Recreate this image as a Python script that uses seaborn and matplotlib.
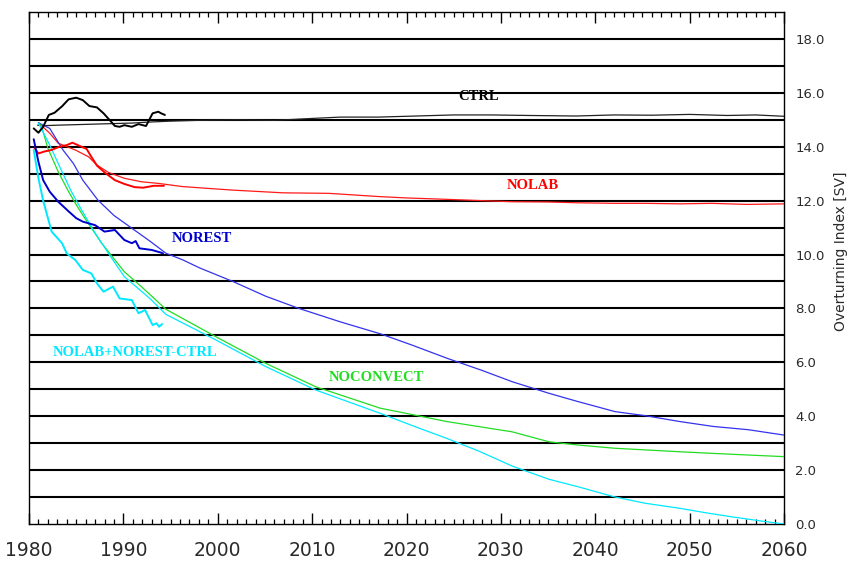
import matplotlib
matplotlib.use("Agg")
import matplotlib.pyplot as plt
from matplotlib.ticker import MultipleLocator, FixedLocator
import seaborn as sns
import numpy as np

# ---------------- data ----------------
ctrl_long_yr = [1980.9, 1981.5, 1983, 1985, 1987, 1989, 1991, 1993, 1995, 1998, 2002, 2006,
                2010, 2013, 2017, 2021, 2025, 2029, 2033, 2038, 2042, 2046, 2050, 2054, 2057, 2060]
ctrl_long_v = [14.8, 14.78, 14.8, 14.82, 14.84, 14.86, 14.88, 14.92, 14.95, 14.98, 15.0, 14.98,
               15.05, 15.1, 15.1, 15.14, 15.18, 15.18, 15.16, 15.14, 15.18, 15.17, 15.2, 15.16, 15.18, 15.13]

ctrl_short_yr = [1980.5, 1981.0, 1981.5, 1982.1, 1982.7, 1983.5, 1984.2, 1985.0, 1985.7, 1986.4,
                 1987.2, 1987.9, 1988.7, 1989.1, 1989.6, 1990.1, 1990.9, 1991.6, 1992.4, 1993.1,
                 1993.7, 1994.0, 1994.4]
ctrl_short_v = [14.68, 14.52, 14.74, 15.18, 15.26, 15.5, 15.76, 15.82, 15.73, 15.51,
                15.46, 15.24, 14.93, 14.77, 14.74, 14.8, 14.74, 14.84, 14.77, 15.24,
                15.3, 15.24, 15.18]

nolab_long_yr = [1981.0, 1982.2, 1983.1, 1984.9, 1986.3, 1987.2, 1988.4, 1990.1, 1991.9, 1993.7,
                 1996.3, 2001.6, 2006.9, 2011.8, 2017.1, 2020, 2024.1, 2028, 2031.2, 2035,
                 2038.2, 2042, 2045.3, 2049, 2052.3, 2056, 2060]
nolab_long_v = [14.89, 14.5, 14.13, 13.88, 13.63, 13.32, 13.05, 12.83, 12.7, 12.64,
                12.52, 12.39, 12.29, 12.27, 12.15, 12.1, 12.05, 12.0, 11.96, 11.95,
                11.92, 11.9, 11.9, 11.88, 11.9, 11.86, 11.88]

nolab_short_yr = [1980.6, 1981.0, 1981.6, 1982.4, 1983.2, 1984.0, 1984.6, 1985.3, 1986.1, 1986.6,
                  1987.2, 1988.0, 1989.1, 1990.1, 1991.2, 1992.1, 1993.2, 1994.3]
nolab_short_v = [13.94, 13.75, 13.82, 13.88, 14.0, 14.06, 14.15, 14.04, 13.92, 13.63,
                 13.3, 13.05, 12.76, 12.62, 12.5, 12.48, 12.55, 12.55]

norest_long_yr = [1981.0, 1982.2, 1983.6, 1984.7, 1985.7, 1987.3, 1989.0, 1991.0, 1992.8, 1994.5,
                  1996.3, 1998.1, 2001.6, 2005.1, 2008.6, 2013, 2017.3, 2020.5, 2024.3, 2028,
                  2031.2, 2035.1, 2038.2, 2042.1, 2045.3, 2049, 2052.5, 2056.2, 2060]
norest_long_v = [14.89, 14.68, 13.88, 13.38, 12.76, 12.02, 11.45, 10.95, 10.5, 10.05,
                 9.8, 9.5, 9.0, 8.45, 8.0, 7.5, 7.05, 6.65, 6.15, 5.7,
                 5.28, 4.85, 4.54, 4.17, 4.02, 3.8, 3.62, 3.5, 3.3]

norest_short_yr = [1980.5, 1981.0, 1981.5, 1982.2, 1983.1, 1984.2, 1985.0, 1985.7, 1987.0, 1988.0,
                   1989.1, 1990.1, 1990.9, 1991.3, 1991.7, 1993.0, 1994.0, 1994.2]
norest_short_v = [14.28, 13.44, 12.76, 12.33, 11.96, 11.6, 11.35, 11.22, 11.09, 10.85,
                  10.91, 10.54, 10.42, 10.5, 10.23, 10.17, 10.07, 10.04]

noconv_long_yr = [1981.0, 1981.3, 1982.0, 1983.1, 1984.2, 1985.0, 1986.0, 1987.7, 1990.1, 1991.9,
                  1994.5, 1999.8, 2005.1, 2010.4, 2017.2, 2024.3, 2031.2, 2035.1, 2038.2, 2042.1,
                  2045.3, 2049, 2052.5, 2056.2, 2060]
noconv_long_v = [14.87, 14.8, 13.94, 13.07, 12.33, 11.85, 11.3, 10.42, 9.36, 8.81,
                 7.97, 6.95, 5.96, 5.09, 4.3, 3.8, 3.42, 3.05, 2.93, 2.81,
                 2.75, 2.68, 2.62, 2.56, 2.5]

both_long_yr = [1981.0, 1982.2, 1983.5, 1984.5, 1985.5, 1987.0, 1988.5, 1990.1, 1992.8, 1994.5,
                1999.8, 2005.1, 2010.4, 2017.2, 2021, 2024.1, 2027.7, 2031.2, 2035.1, 2038.2,
                2042, 2045.3, 2049, 2052, 2054.4, 2058, 2060]
both_long_v = [14.87, 14.06, 13.07, 12.33, 11.7, 10.8, 10.0, 9.18, 8.37, 7.78,
               6.83, 5.84, 4.97, 4.11, 3.6, 3.2, 2.7, 2.15, 1.66, 1.38,
               1.01, 0.77, 0.58, 0.4, 0.27, 0.09, 0.0]

both_short_yr = [1980.5, 1981.0, 1981.5, 1982.4, 1983.5, 1984.0, 1984.9, 1985.7, 1986.6, 1987.2,
                 1987.9, 1988.9, 1989.6, 1990.9, 1991.6, 1992.3, 1993.1, 1993.5, 1993.8, 1994.1]
both_short_v = [13.88, 12.83, 12.0, 10.85, 10.42, 10.04, 9.8, 9.43, 9.3, 8.93,
                8.62, 8.81, 8.37, 8.31, 7.82, 7.94, 7.38, 7.45, 7.32, 7.42]

labels = ["CTRL", "NOLAB", "NOREST", "NOLAB+NOREST-CTRL", "NOCONVECT"]
label_pos_yr = [2027.6, 2033.4, 1998.3, 1991.25, 2016.8]
label_pos_v = [15.88, 12.58, 10.59, 6.38, 5.44]

y_ticks = [0, 2, 4, 6, 8, 10, 12, 14, 16, 18]
x_ticks = [1980, 1990, 2000, 2010, 2020, 2030, 2040, 2050, 2060]

# ---------------- styling ----------------
sns.set_style("white")
plt.rcParams['font.family'] = ['DejaVu Sans']

c_black = "#000000"
c_red = "#ff1a1a"
c_red_thick = "#ff0000"
c_blue = "#3333ee"
c_blue_thick = "#0000cc"
c_green = "#22dd22"
c_cyan = "#00e8ff"
label_colors = [c_black, c_red_thick, c_blue_thick, c_cyan, c_green]

fig = plt.figure(figsize=(8.49, 5.63), dpi=100)
ax = fig.add_axes([29 / 849, 1 - 524 / 563, (784 - 29) / 849, (524 - 12) / 563])
ax.set_xlim(1980, 2060)
ax.set_ylim(0, 19)

for v in range(1, 19):
    ax.axhline(v, color="black", lw=1.5, zorder=1)

thin = 0.9
thick = 1.4
series = [
    (ctrl_long_yr, ctrl_long_v, "#222222", thin),
    (nolab_long_yr, nolab_long_v, c_red, thin),
    (norest_long_yr, norest_long_v, c_blue, thin),
    (noconv_long_yr, noconv_long_v, c_green, thin),
    (both_long_yr, both_long_v, c_cyan, thin),
    (ctrl_short_yr, ctrl_short_v, c_black, thick),
    (nolab_short_yr, nolab_short_v, c_red_thick, thick),
    (norest_short_yr, norest_short_v, c_blue_thick, thick),
    (both_short_yr, both_short_v, c_cyan, thick),
]
for xs, ys, col, lw in series:
    sns.lineplot(x=np.array(xs), y=np.array(ys), ax=ax, color=col, lw=lw,
                 estimator=None, sort=False, zorder=3)

for lab, xx, yy, col in zip(labels, label_pos_yr, label_pos_v, label_colors):
    ax.text(xx, yy, lab, color=col, fontsize=10.5, fontweight="bold",
            family=["Liberation Serif", "DejaVu Serif"], ha="center", va="center", zorder=4)

# axes / ticks
for s in ax.spines.values():
    s.set_visible(True)
    s.set_color("black")
    s.set_linewidth(1.0)

ax.xaxis.set_major_locator(FixedLocator(x_ticks))
ax.xaxis.set_minor_locator(MultipleLocator(1))
ax.tick_params(axis="x", which="both", direction="in", top=True, bottom=True, color="black")
ax.tick_params(axis="x", which="major", length=8, width=1.0, labelsize=13.5, pad=12,
               labelcolor="#2a2a2a")
ax.tick_params(axis="x", which="minor", length=3.3, width=0.9)
ax.set_xticklabels([str(t) for t in x_ticks])

ax.yaxis.tick_right()
ax.set_yticks(y_ticks)
ax.set_yticklabels([f"{t:.1f}" for t in y_ticks])
ax.tick_params(axis="y", which="both", length=0, labelsize=9.5, pad=8, labelcolor="#2a2a2a",
               left=False, right=False)
ax.set_xlabel("")
ax.set_ylabel("")
ax.grid(False)

fig.text(841 / 849, 1 - 251 / 563, "Overturning Index [SV]", rotation=90, fontsize=10,
         ha="center", va="center", color="#2a2a2a")

fig.savefig("out.png", dpi=100)
